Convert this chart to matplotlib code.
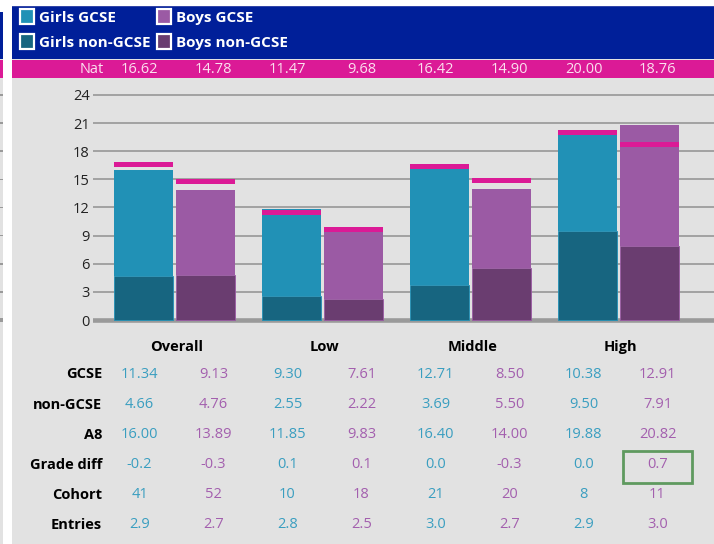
import matplotlib.pyplot as plt
from matplotlib.patches import Rectangle

# --------- Data ---------
groups = ["Overall", "Low", "Middle", "High"]
girls_gcse = [11.34, 9.30, 12.71, 10.38]
girls_non_gcse = [4.66, 2.55, 3.69, 9.50]
boys_gcse = [9.13, 7.61, 8.50, 12.91]
boys_non_gcse = [4.76, 2.22, 5.50, 7.91]
girls_a8 = [16.00, 11.85, 16.40, 19.88]
boys_a8 = [13.89, 9.83, 14.00, 20.82]
girls_nat = [16.62, 11.47, 16.42, 20.00]
boys_nat = [14.78, 9.68, 14.90, 18.76]
girls_grade_diff = [-0.2, 0.1, 0.0, 0.0]
boys_grade_diff = [-0.3, 0.1, -0.3, 0.7]
girls_cohort = [41, 10, 21, 8]
boys_cohort = [52, 18, 20, 11]
girls_entries = [2.9, 2.8, 3.0, 2.9]
boys_entries = [2.7, 2.5, 2.7, 3.0]
y_ticks = [0, 3, 6, 9, 12, 15, 18, 21, 24]

# --------- Styles ---------
BG = "#e2e2e2"
HEADER = "#001f99"
MAGENTA = "#db1a96"
GRID = "#9a9a9a"
C_GIRLS = "#2191b6"
C_GIRLS_NON = "#176580"
C_BOYS = "#9b5aa4"
C_BOYS_NON = "#6a3d70"
T_GIRLS = "#3a9ec0"
T_BOYS = "#a35fae"
FONT = "Open Sans"

W, H = 714, 544
fig = plt.figure(figsize=(W / 100, H / 100), dpi=100, facecolor=BG)

# pixel-space canvas for panels, legend and table
bg = fig.add_axes([0, 0, 1, 1])
bg.set_xlim(0, W)
bg.set_ylim(H, 0)
bg.axis("off")

# tick stubs of neighbouring panel
for v in y_ticks:
    py = 320 - v * 9.375
    h = 4.6 if v == 0 else 1.7
    bg.add_patch(Rectangle((0, py - h / 2), 3, h, color=GRID, lw=0, zorder=1))

# edge of neighbouring panel and white gutter
bg.add_patch(Rectangle((0, 0), 3, 12, color="white", lw=0, zorder=2))
bg.add_patch(Rectangle((0, 12), 3, 47, color=HEADER, lw=0, zorder=2))
bg.add_patch(Rectangle((0, 60), 3, 18, color=MAGENTA, lw=0, zorder=2))
bg.add_patch(Rectangle((3, 0), 9, H, color="white", lw=0, zorder=2))
bg.add_patch(Rectangle((0, 0), W, 6, color="white", lw=0, zorder=2))

# header band and national-average band
bg.add_patch(Rectangle((12, 6), W - 12, 53, color=HEADER, lw=0, zorder=2))
bg.add_patch(Rectangle((12, 6), W - 12, 1, color="#3346a8", lw=0, zorder=2))
bg.add_patch(Rectangle((12, 60), W - 12, 18, color=MAGENTA, lw=0, zorder=2))

# legend
legend = [("Girls GCSE", C_GIRLS, 20, 9), ("Boys GCSE", C_BOYS, 157, 9),
          ("Girls non-GCSE", C_GIRLS_NON, 20, 34), ("Boys non-GCSE", C_BOYS_NON, 157, 34)]
for label, col, x, y in legend:
    bg.add_patch(Rectangle((x, y), 14, 15, facecolor=col, edgecolor="white", lw=1.6, zorder=3))
    bg.text(x + 19, y + 9, label, color="white", fontsize=11, fontweight="bold",
            family=FONT, ha="left", va="center")

# column positions for the numeric rows
col_x = [139.5 + 74 * k for k in range(8)]

def interleave(a, b):
    out = []
    for u, v in zip(a, b):
        out += [u, v]
    return out

nat_vals = interleave(girls_nat, boys_nat)
bg.text(92, 69.5, "Nat", color="#fbe0ef", fontsize=10.5, family=FONT, ha="center", va="center")
for x, v in zip(col_x, nat_vals):
    bg.text(x, 69.5, f"{v:.2f}", color="#fbe0ef", fontsize=10.5, family=FONT,
            ha="center", va="center")

# --------- Bars ---------
ax = fig.add_axes([93 / W, 1 - 324.7 / H, (W - 93) / W, (324.7 - 85.6) / H])
ax.patch.set_alpha(0)
x0 = (93 - 174.5) / 148
x1 = (W - 174.5) / 148
ax.set_xlim(x0, x1)
ax.set_ylim(-0.5, 25)
for s in ax.spines.values():
    s.set_visible(False)
for v in y_ticks[1:]:
    ax.axhline(v, color=GRID, lw=1.25, zorder=1)
ax.axhline(0, color=GRID, lw=3.3, zorder=1)
ax.set_yticks(y_ticks)
ax.set_yticklabels([str(v) for v in y_ticks], family=FONT, fontsize=10.5, color="#222222")
ax.tick_params(axis="y", length=0, pad=2.5)
ax.set_xticks([])

off = 31 / 148
bw = 59 / 148
xs = range(len(groups))
gx = [i - off for i in xs]
bx = [i + off for i in xs]
ax.bar(gx, girls_non_gcse, width=bw, color=C_GIRLS_NON, edgecolor=C_GIRLS, lw=0.6, zorder=3)
ax.bar(gx, girls_gcse, bottom=girls_non_gcse, width=bw, color=C_GIRLS, lw=0, zorder=3)
ax.bar(bx, boys_non_gcse, width=bw, color=C_BOYS_NON, edgecolor=C_BOYS, lw=0.6, zorder=3)
ax.bar(bx, boys_gcse, bottom=boys_non_gcse, width=bw, color=C_BOYS, lw=0, zorder=3)

# national average markers
mh = 0.53
ax.bar(gx, [mh] * 4, bottom=[v - mh / 2 for v in girls_nat], width=bw, color=MAGENTA, lw=0, zorder=4)
ax.bar(bx, [mh] * 4, bottom=[v - mh / 2 for v in boys_nat], width=bw, color=MAGENTA, lw=0, zorder=4)

# --------- Table ---------
for i, g in enumerate(groups):
    bg.text(176.5 + 148 * i, 347, g, fontsize=10.5, fontweight="bold", family=FONT,
            color="black", ha="center", va="center")

rows = [
    ("GCSE", interleave([f"{v:.2f}" for v in girls_gcse], [f"{v:.2f}" for v in boys_gcse])),
    ("non-GCSE", interleave([f"{v:.2f}" for v in girls_non_gcse], [f"{v:.2f}" for v in boys_non_gcse])),
    ("A8", interleave([f"{v:.2f}" for v in girls_a8], [f"{v:.2f}" for v in boys_a8])),
    ("Grade diff", interleave([f"{v:.1f}" for v in girls_grade_diff], [f"{v:.1f}" for v in boys_grade_diff])),
    ("Cohort", interleave([str(v) for v in girls_cohort], [str(v) for v in boys_cohort])),
    ("Entries", interleave([f"{v:.1f}" for v in girls_entries], [f"{v:.1f}" for v in boys_entries])),
]
for r, (label, vals) in enumerate(rows):
    y = 374.5 + 30.1 * r
    bg.text(102, y, label, fontsize=10.5, fontweight="bold", family=FONT,
            color="black", ha="right", va="center")
    for k, (x, v) in enumerate(zip(col_x, vals)):
        bg.text(x, y, v, fontsize=10.5, family=FONT, color=T_GIRLS if k % 2 == 0 else T_BOYS,
                ha="center", va="center")

# highlight box on High boys grade diff
bg.add_patch(Rectangle((623, 451), 69, 32, fill=False, edgecolor="#5f9a5f", lw=2, zorder=3))

fig.savefig("out.png", dpi=100, facecolor=BG)
